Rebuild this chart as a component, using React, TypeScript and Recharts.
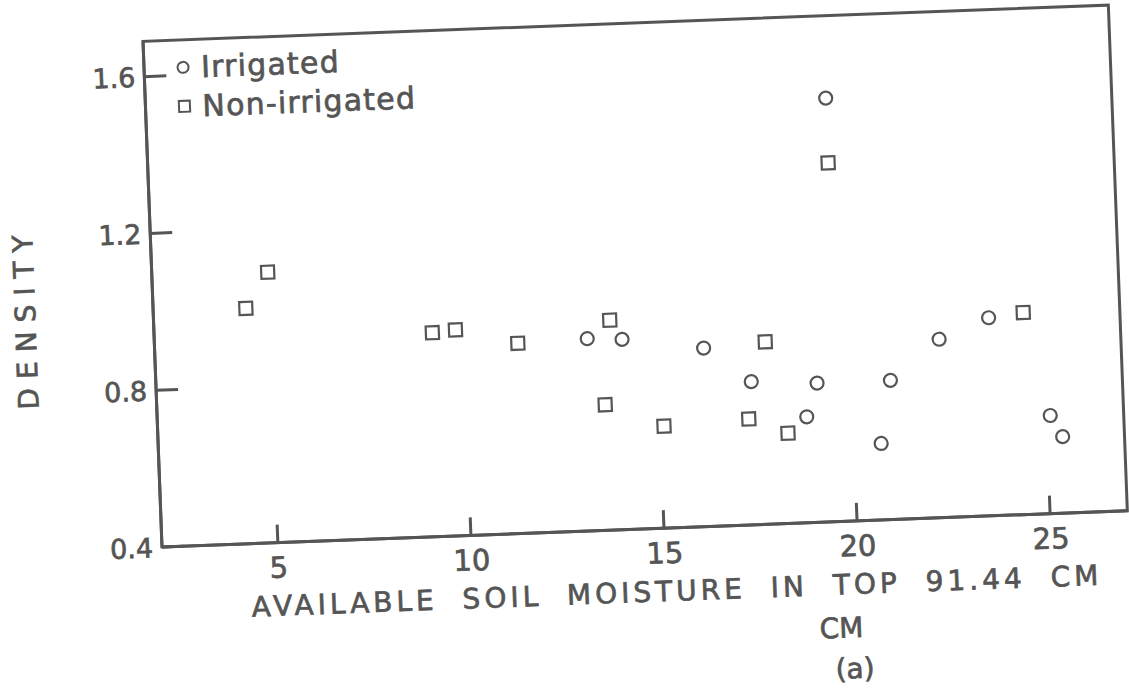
import { Legend, ReferenceArea, Scatter, ScatterChart, XAxis, YAxis } from "recharts";

const INK = "#555";
const FONT = "'DejaVu Sans', sans-serif";

const xTicks = [5, 10, 15, 20, 25];
const yTicks = [0.4, 0.8, 1.2, 1.6];

// available soil moisture (cm) / density
const irrigatedMoisture = [13.2, 14.1, 16.2, 17.4, 19.1, 21.0, 18.8, 20.7, 22.3, 23.6, 25.1, 25.4, 19.6];
const irrigatedDensity = [0.89, 0.885, 0.855, 0.765, 0.755, 0.755, 0.67, 0.595, 0.855, 0.905, 0.65, 0.595, 1.48];
const nonIrrigatedMoisture = [5.0, 4.4, 9.2, 9.8, 11.4, 13.8, 13.6, 15.1, 17.8, 17.3, 18.3, 24.5, 19.6];
const nonIrrigatedDensity = [1.09, 1.0, 0.92, 0.925, 0.885, 0.935, 0.72, 0.66, 0.865, 0.67, 0.63, 0.915, 1.315];

const irrigated = irrigatedMoisture.map((x, i) => ({ x, y: irrigatedDensity[i] }));
const nonIrrigated = nonIrrigatedMoisture.map((x, i) => ({ x, y: nonIrrigatedDensity[i] }));

// scanned lettering is a bit heavier than the plain font
const textInk = { fill: INK, stroke: INK, strokeWidth: 0.7, fontFamily: FONT };

function OpenCircle(props: any) {
  return <circle cx={props.cx} cy={props.cy} r={6.5} fill="none" stroke={INK} strokeWidth={2.2} />;
}

function OpenSquare(props: any) {
  return <rect x={props.cx - 6.5} y={props.cy - 6.5} width={13} height={13} fill="none" stroke={INK} strokeWidth={2.2} />;
}

function XTick({ x, y, payload }: any) {
  return (
    <g>
      <line x1={x} y1={y} x2={x} y2={y - 18} stroke={INK} strokeWidth={3} />
      <text x={x} y={y + 35} textAnchor="middle" fontSize={29} {...textInk}>
        {payload.value}
      </text>
    </g>
  );
}

function YTick({ x, y, payload }: any) {
  return (
    <g>
      <line x1={x} y1={y} x2={x + 22} y2={y} stroke={INK} strokeWidth={3} />
      <text x={x - 9} y={y + 10} textAnchor="end" fontSize={27} {...textInk}>
        {payload.value.toFixed(1)}
      </text>
    </g>
  );
}

function XTitle({ viewBox }: any) {
  const { x, y } = viewBox;
  return (
    <g {...textInk}>
      <text x={x + 513} y={y + 73} textAnchor="middle" fontSize={28} letterSpacing={4} wordSpacing={12}>
        AVAILABLE SOIL MOISTURE IN TOP 91.44 CM
      </text>
      <text x={x + 676} y={y + 116} textAnchor="middle" fontSize={28}>
        CM
      </text>
      <text x={x + 688} y={y + 157} textAnchor="middle" fontSize={28}>
        (a)
      </text>
    </g>
  );
}

function YTitle({ viewBox }: any) {
  const cx = viewBox.x + 34;
  const cy = viewBox.y + viewBox.height / 2 + 19;
  return (
    <text
      x={cx}
      y={cy + 10}
      transform={`rotate(-90, ${cx}, ${cy})`}
      textAnchor="middle"
      fontSize={28}
      letterSpacing={9}
      {...textInk}
    >
      DENSITY
    </text>
  );
}

function LegendBox({ payload }: any) {
  return (
    <div style={{ fontFamily: FONT, fontSize: 30, color: INK, lineHeight: "39px", WebkitTextStroke: `0.7px ${INK}` }}>
      {(payload || []).map((entry: any) => (
        <div key={entry.value} style={{ display: "flex", alignItems: "center", letterSpacing: 1.2 }}>
          <svg width={30} height={39}>
            {entry.value === "Irrigated" ? (
              <circle cx={15} cy={19.5} r={5.5} fill="none" stroke={INK} strokeWidth={2} />
            ) : (
              <rect x={9.5} y={14} width={11} height={11} fill="none" stroke={INK} strokeWidth={2} />
            )}
          </svg>
          <span style={{ marginLeft: 3 }}>{entry.value}</span>
        </div>
      ))}
    </div>
  );
}

export default function App() {
  return (
    <div style={{ position: "absolute", left: 0, top: 0, width: 1129, height: 691, overflow: "hidden", background: "#fff" }}>
      <div style={{ position: "absolute", left: 0, top: 0, transformOrigin: "162px 547px", transform: "rotate(-2.15deg)" }}>
        <ScatterChart width={1140} height={720} margin={{ top: 41, right: 12, bottom: 113, left: 0 }}>
          <ReferenceArea x1={2} x2={27} y1={0.4} y2={1.69} fill="none" stroke={INK} strokeWidth={3} />
          <XAxis
            type="number"
            dataKey="x"
            domain={[2, 27]}
            ticks={xTicks}
            height={60}
            axisLine={{ stroke: INK, strokeWidth: 3 }}
            tickLine={false}
            tickSize={0}
            tickMargin={0}
            tick={<XTick />}
            label={{ content: XTitle }}
          />
          <YAxis
            type="number"
            dataKey="y"
            domain={[0.4, 1.69]}
            ticks={yTicks}
            width={162}
            axisLine={{ stroke: INK, strokeWidth: 3 }}
            tickLine={false}
            tickSize={0}
            tickMargin={0}
            tick={<YTick />}
            label={{ content: YTitle }}
          />
          <Legend
            layout="vertical"
            align="center"
            verticalAlign="middle"
            wrapperStyle={{ left: 186, top: 49, width: "auto" }}
            content={<LegendBox />}
          />
          <Scatter name="Irrigated" data={irrigated} shape={OpenCircle} isAnimationActive={false} />
          <Scatter name="Non-irrigated" data={nonIrrigated} shape={OpenSquare} isAnimationActive={false} />
        </ScatterChart>
      </div>
    </div>
  );
}
